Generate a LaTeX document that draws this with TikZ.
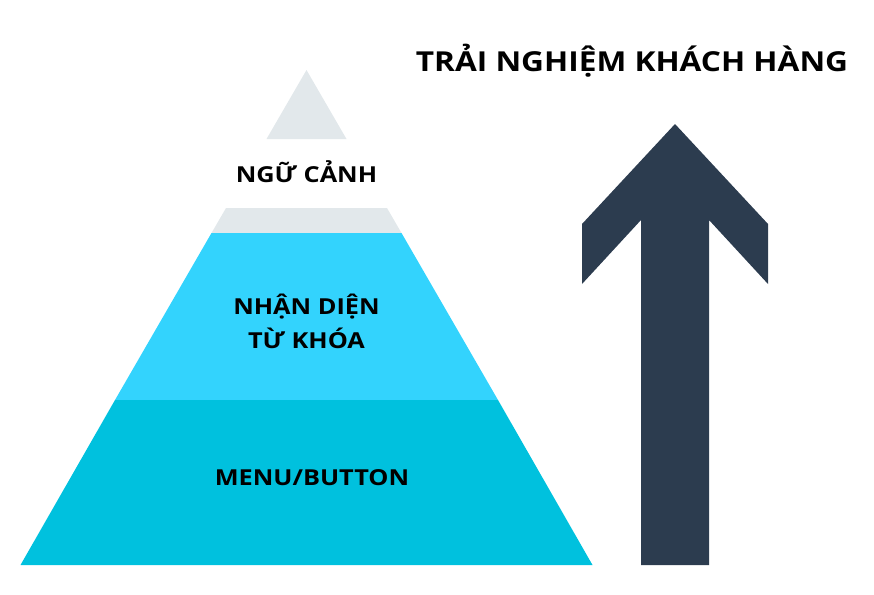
\documentclass[tikz,border=0pt]{standalone}
\usepackage{fontspec}
\setmainfont{Open Sans}
\newfontfamily\widefont[FakeStretch=1.15]{Open Sans}
\definecolor{tipgray}{HTML}{E2E8EB}
\definecolor{midcyan}{HTML}{33D3FD}
\definecolor{basecyan}{HTML}{00C1DE}
\definecolor{arrowblue}{HTML}{2C3C4F}
\tikzset{
  lbl/.style={font=\widefont\bfseries\fontsize{22}{34}\selectfont, text=black, align=center, inner sep=0pt},
  ttl/.style={font=\widefont\bfseries\fontsize{27.5}{33}\selectfont, text=black, inner sep=0pt},
}
\begin{document}
\begin{tikzpicture}[x=1pt,y=-1pt]
\useasboundingbox (0,0) rectangle (874,594);
% pyramid layers
\fill[tipgray] (306.5,70) -- (346.5,139) -- (266.5,139) -- cycle;
\fill[tipgray] (226,208) -- (387,208) -- (401.5,233) -- (211.5,233) -- cycle;
\fill[midcyan] (211.5,233) -- (401.5,233) -- (498,400) -- (115,400) -- cycle;
\fill[basecyan] (115,400) -- (498,400) -- (592.5,565) -- (20.5,565) -- cycle;
% arrow
\fill[arrowblue] (675,124) -- (768,224) -- (768,284) -- (709,220) -- (709,565)
  -- (641,565) -- (641,220) -- (582,284) -- (582,224) -- cycle;
% labels
\node[lbl] (ctx) at (306.5,172) {NGỮ CẢNH};
\node[lbl] (kw) at (306.5,321) {NHẬN DIỆN\\TỪ KHÓA};
\node[lbl] (menu) at (312,478) {MENU/BUTTON};
\node[ttl] (title) at (632,61) {TRẢI NGHIỆM KHÁCH HÀNG};
\end{tikzpicture}
\end{document}
